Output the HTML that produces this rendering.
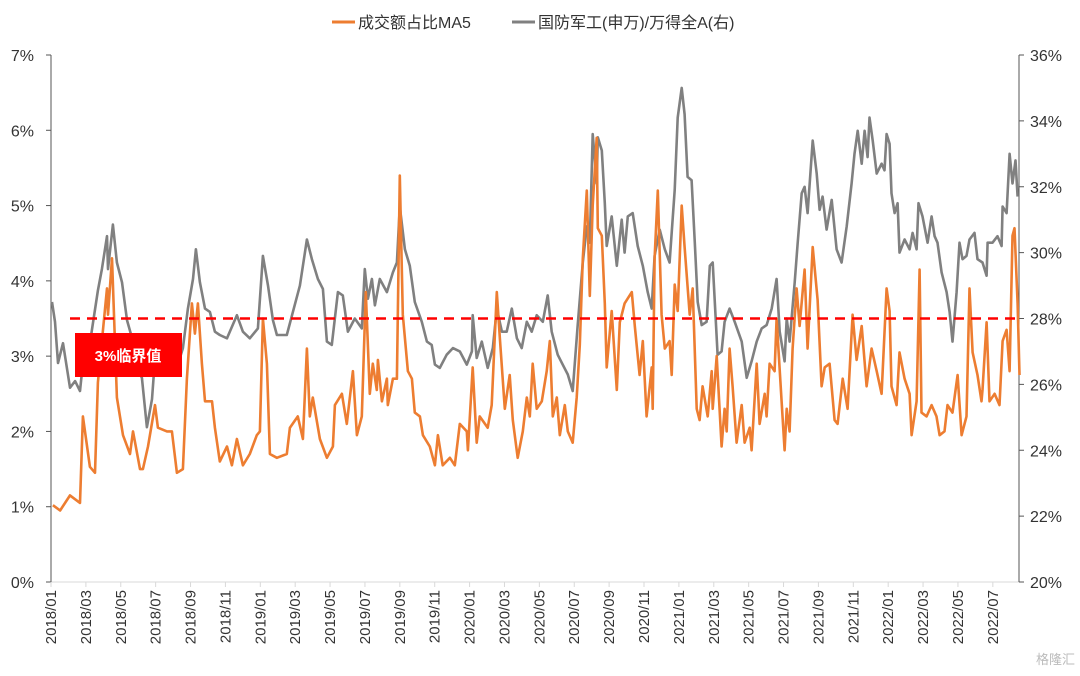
<!DOCTYPE html>
<html><head><meta charset="utf-8">
<style>
html,body{margin:0;padding:0;background:#fff;}
body{width:1080px;height:671px;overflow:hidden;font-family:"Liberation Sans","Noto Sans CJK SC",sans-serif;}
svg text{font-family:"Liberation Sans","Noto Sans CJK SC",sans-serif;}
</style></head><body>
<svg id="chart" width="1080" height="671" viewBox="0 0 1080 671" xmlns="http://www.w3.org/2000/svg">
<g id="legend">
 <g>
  <line x1="332" y1="22" x2="355" y2="22" stroke="#ED7D31" stroke-width="3"/>
  <text x="358" y="28" font-size="16" fill="#333">成交额占比MA5</text>
 </g>
 <g>
  <line x1="512" y1="22" x2="535" y2="22" stroke="#808080" stroke-width="3"/>
  <text x="538" y="28" font-size="16" fill="#333">国防军工(申万)/万得全A(右)</text>
 </g>
</g>
<g id="axes"></g>
<g id="series"></g>
<g>
 <rect x="75" y="333" width="107" height="44" fill="#FF0000"/>
 <text x="128" y="361" font-size="15" font-weight="bold" fill="#fff" text-anchor="middle">3%临界值</text>
</g>
<text x="1075" y="664" font-size="13" fill="#bbb" text-anchor="end">格隆汇</text>
</svg>
<script>
// months since 2018/01 for each point, and values
const orangeT=[0.11,0.52,1.09,1.66,1.83,2.23,2.52,2.69,3.21,3.27,3.5,3.78,4.13,4.53,4.7,5.1,5.27,5.56,5.96,6.13,6.65,6.93,7.22,7.56,7.79,8.08,8.25,8.42,8.65,8.83,9.23,9.4,9.68,10.09,10.37,10.66,11.0,11.4,11.8,11.98,12.15,12.38,12.55,12.95,13.52,13.7,14.15,14.44,14.67,14.84,15.01,15.42,15.82,16.16,16.28,16.68,16.96,17.31,17.54,17.82,18.05,18.28,18.45,18.68,18.74,18.97,19.26,19.31,19.6,19.83,20.0,20.17,20.46,20.69,20.86,21.15,21.32,21.72,22.01,22.18,22.46,22.87,23.15,23.44,23.84,23.9,24.18,24.41,24.58,25.04,25.27,25.56,25.73,26.02,26.3,26.48,26.76,27.05,27.28,27.45,27.62,27.85,28.14,28.42,28.6,28.77,29.0,29.17,29.46,29.63,29.91,30.14,30.32,30.49,30.72,30.89,31.06,31.29,31.35,31.58,31.75,31.86,32.15,32.44,32.61,32.89,33.3,33.47,33.75,33.93,34.15,34.44,34.5,34.61,34.79,35.01,35.19,35.47,35.59,35.76,35.93,36.16,36.33,36.62,36.79,37.02,37.19,37.36,37.65,37.88,37.94,38.17,38.45,38.62,38.74,38.91,39.08,39.31,39.6,39.77,40.06,40.17,40.46,40.63,40.92,41.03,41.2,41.49,41.6,41.89,42.06,42.18,42.35,42.52,42.75,42.92,43.21,43.38,43.67,43.95,44.18,44.36,44.64,44.93,45.1,45.39,45.67,45.96,46.19,46.48,46.76,47.05,47.34,47.62,47.91,48.08,48.19,48.48,48.65,48.94,49.23,49.34,49.63,49.8,49.91,50.2,50.49,50.77,50.95,51.23,51.4,51.69,51.98,52.21,52.49,52.66,52.84,53.12,53.35,53.41,53.64,53.81,54.1,54.38,54.56,54.79,54.96,55.13,55.24,55.42,55.53];
const orangeV=[1.02,0.95,1.15,1.05,2.2,1.53,1.45,2.65,3.9,3.55,4.3,2.45,1.95,1.7,2.0,1.5,1.5,1.8,2.35,2.05,2.0,2.0,1.45,1.5,2.7,3.7,3.3,3.7,2.9,2.4,2.4,2.05,1.6,1.8,1.55,1.9,1.55,1.7,1.95,2.0,3.5,2.9,1.7,1.65,1.7,2.05,2.2,1.9,3.1,2.2,2.45,1.9,1.65,1.8,2.35,2.5,2.1,2.8,1.95,2.2,3.85,2.5,2.9,2.55,2.95,2.4,2.7,2.35,2.7,2.7,5.4,3.55,2.8,2.7,2.25,2.2,1.95,1.8,1.55,1.95,1.55,1.65,1.55,2.1,2.0,1.75,2.85,1.85,2.2,2.05,2.35,3.85,3.25,2.3,2.75,2.15,1.65,2.0,2.45,2.2,2.9,2.3,2.4,2.8,3.2,2.2,2.45,1.95,2.35,2.0,1.85,2.45,3.15,4.3,5.2,3.8,5.0,5.9,4.7,4.6,3.7,2.85,3.6,2.55,3.45,3.7,3.85,3.4,2.75,3.2,2.2,2.85,2.3,4.3,5.2,3.55,3.1,3.2,2.75,3.95,3.6,5.0,4.45,3.55,3.9,2.3,2.15,2.6,2.2,2.8,2.3,3.0,1.8,2.3,2.0,3.1,2.6,1.85,2.35,1.85,2.05,1.75,2.9,2.1,2.5,2.2,2.9,2.8,3.5,2.4,1.75,2.3,2.0,3.1,3.9,3.4,4.15,3.1,4.45,3.75,2.6,2.85,2.9,2.15,2.1,2.7,2.3,3.55,2.95,3.4,2.6,3.1,2.8,2.5,3.9,3.6,2.6,2.35,3.05,2.7,2.5,1.95,2.4,4.15,2.25,2.2,2.35,2.2,1.95,2.0,2.35,2.25,2.75,1.95,2.2,3.9,3.05,2.75,2.4,2.55,3.45,2.4,2.5,2.35,3.2,3.35,2.8,4.6,4.7,3.7,2.75];
const grayT=[0.06,0.23,0.4,0.69,1.09,1.38,1.66,1.83,2.23,2.69,2.92,3.21,3.27,3.55,3.78,4.07,4.36,4.7,4.93,5.21,5.5,5.79,5.96,6.36,6.82,7.22,7.56,7.85,8.14,8.31,8.54,8.83,9.11,9.4,9.68,10.09,10.66,11.0,11.4,11.86,12.15,12.44,12.72,12.95,13.52,13.87,14.27,14.67,14.96,15.3,15.59,15.82,16.1,16.45,16.73,17.02,17.42,17.82,17.99,18.17,18.4,18.57,18.85,19.26,19.6,19.83,20.0,20.29,20.57,20.86,21.26,21.55,21.83,22.01,22.29,22.69,23.04,23.44,23.84,24.13,24.18,24.41,24.7,25.04,25.33,25.56,25.85,26.13,26.42,26.71,26.99,27.28,27.56,27.85,28.2,28.48,28.71,29.05,29.34,29.63,29.91,30.2,30.49,30.72,30.89,31.06,31.29,31.35,31.58,31.75,31.86,32.15,32.44,32.72,32.89,33.07,33.35,33.64,33.93,34.21,34.44,34.61,34.9,35.19,35.47,35.76,35.93,36.16,36.33,36.5,36.73,36.91,37.08,37.31,37.59,37.77,37.94,38.22,38.45,38.62,38.91,39.2,39.6,39.89,40.17,40.46,40.75,41.03,41.32,41.6,41.78,42.06,42.18,42.35,42.64,42.81,43.04,43.21,43.38,43.67,43.9,44.07,44.24,44.47,44.76,45.04,45.33,45.62,45.9,46.07,46.25,46.48,46.65,46.82,46.93,47.11,47.34,47.62,47.79,47.91,48.08,48.19,48.37,48.54,48.65,48.94,49.23,49.4,49.63,49.74,49.97,50.26,50.49,50.66,50.83,51.06,51.35,51.52,51.69,51.92,52.09,52.26,52.49,52.66,52.95,53.12,53.41,53.64,53.7,53.98,54.27,54.5,54.56,54.79,54.96,55.13,55.3,55.42];
const grayV=[28.5,27.9,26.65,27.25,25.9,26.1,25.8,26.65,27.25,28.85,29.5,30.5,29.5,30.85,29.7,29.1,27.95,27.3,26.5,26.2,24.7,25.55,26.8,27.1,26.9,26.5,27.1,28.3,29.2,30.1,29.1,28.3,28.2,27.6,27.5,27.4,28.1,27.6,27.4,27.7,29.9,29.0,27.95,27.5,27.5,28.2,29.0,30.4,29.8,29.2,28.9,27.3,27.2,28.8,28.7,27.6,28.0,27.7,29.5,28.6,29.2,28.4,29.2,28.8,29.4,29.7,31.4,30.1,29.6,28.5,27.9,27.3,27.2,26.6,26.5,26.9,27.1,27.0,26.6,27.0,28.1,26.8,27.3,26.5,27.1,28.3,27.6,27.6,28.3,27.4,27.1,27.9,27.6,28.1,27.9,28.7,27.6,26.9,26.6,26.3,25.8,27.8,29.7,30.8,30.3,33.6,32.1,33.5,33.1,31.5,30.2,31.1,29.6,31.0,30.0,31.1,31.2,30.2,29.6,28.8,28.3,29.9,30.7,30.1,29.7,31.9,34.1,35.0,34.2,32.3,32.2,30.3,28.5,27.8,27.9,29.6,29.7,26.9,27.0,27.9,28.3,27.9,27.3,26.2,26.7,27.3,27.7,27.8,28.3,29.2,27.6,26.7,28.0,27.3,29.1,30.3,31.8,32.0,31.2,33.4,32.4,31.3,31.7,30.7,31.6,30.1,29.7,30.8,32.1,33.0,33.7,32.7,33.7,32.9,34.1,33.4,32.4,32.7,32.5,33.6,33.3,31.8,31.2,31.5,30.0,30.4,30.1,30.6,30.1,31.5,31.1,30.3,31.1,30.5,30.3,29.4,28.8,28.2,27.3,28.8,30.3,29.8,29.9,30.4,30.6,29.8,29.7,29.3,30.3,30.3,30.5,30.2,31.4,31.2,33.0,32.1,32.8,31.7];
const leftTicks=[0,1,2,3,4,5,6,7];
const rightTicks=[20,22,24,26,28,30,32,34,36];
const xLabels=["2018/01","2018/03","2018/05","2018/07","2018/09","2018/11","2019/01","2019/03","2019/05","2019/07","2019/09","2019/11","2020/01","2020/03","2020/05","2020/07","2020/09","2020/11","2021/01","2021/03","2021/05","2021/07","2021/09","2021/11","2022/01","2022/03","2022/05","2022/07"];
const threshold=[28];

const NS="http://www.w3.org/2000/svg";
const X0=51,X1=1019,Y0=582,Y1=55,M_END=55.5;
const xs=m=>X0+(X1-X0)*m/M_END;
const yl=v=>Y0-(Y0-Y1)*v/7;
const yr=v=>Y0-(Y0-Y1)*(v-20)/16;
function mk(tag,attrs,parent){const e=document.createElementNS(NS,tag);for(const k in attrs)e.setAttribute(k,attrs[k]);parent.appendChild(e);return e;}
const axes=document.getElementById('axes'),series=document.getElementById('series');

let el=mk('line',{x1:X0,y1:Y0,x2:X1,y2:Y0,stroke:'#d9d9d9','stroke-width':1},axes);


el=mk('line',{x1:X0,y1:Y1,x2:X0,y2:Y0,stroke:'#555','stroke-width':1},axes);


el=mk('line',{x1:X1,y1:Y1,x2:X1,y2:Y0,stroke:'#555','stroke-width':1},axes);



leftTicks.forEach(v=>{
 mk('line',{x1:X0-5,y1:yl(v),x2:X0,y2:yl(v),stroke:'#555'},axes);
 const t=mk('text',{x:34,y:yl(v)+6,'font-size':16,fill:'#333','text-anchor':'end'},axes);
 t.textContent=v+'%';
 
 
});
rightTicks.forEach(v=>{
 mk('line',{x1:X1,y1:yr(v),x2:X1+5,y2:yr(v),stroke:'#555'},axes);
 const t=mk('text',{x:1030,y:yr(v)+6,'font-size':16,fill:'#333'},axes);
 t.textContent=v+'%';
 
 
});
xLabels.forEach((s,i)=>{
 const x=xs(i*2);
 mk('line',{x1:x,y1:Y0,x2:x,y2:Y0+5,stroke:'#d9d9d9'},axes);
 const t=mk('text',{x:0,y:0,'font-size':15,fill:'#333','text-anchor':'end',transform:`translate(${x+5},590) rotate(-90)`},axes);
 t.textContent=s;
 
 
});

function path(T,V,f){return T.map((t,i)=>(i?'L':'M')+xs(t).toFixed(1)+','+f(V[i]).toFixed(1)).join('');}
el=mk('path',{d:path(grayT,grayV,yr),fill:'none',stroke:'#808080','stroke-width':2.6,'stroke-linejoin':'round'},series);


el=mk('path',{d:path(orangeT,orangeV,yl),fill:'none',stroke:'#ED7D31','stroke-width':2.6,'stroke-linejoin':'round'},series);


el=mk('line',{x1:70,y1:yr(threshold[0]),x2:X1,y2:yr(threshold[0]),stroke:'#FF0000','stroke-width':2.5,'stroke-dasharray':'10,7'},series);


</script>
</body></html>
